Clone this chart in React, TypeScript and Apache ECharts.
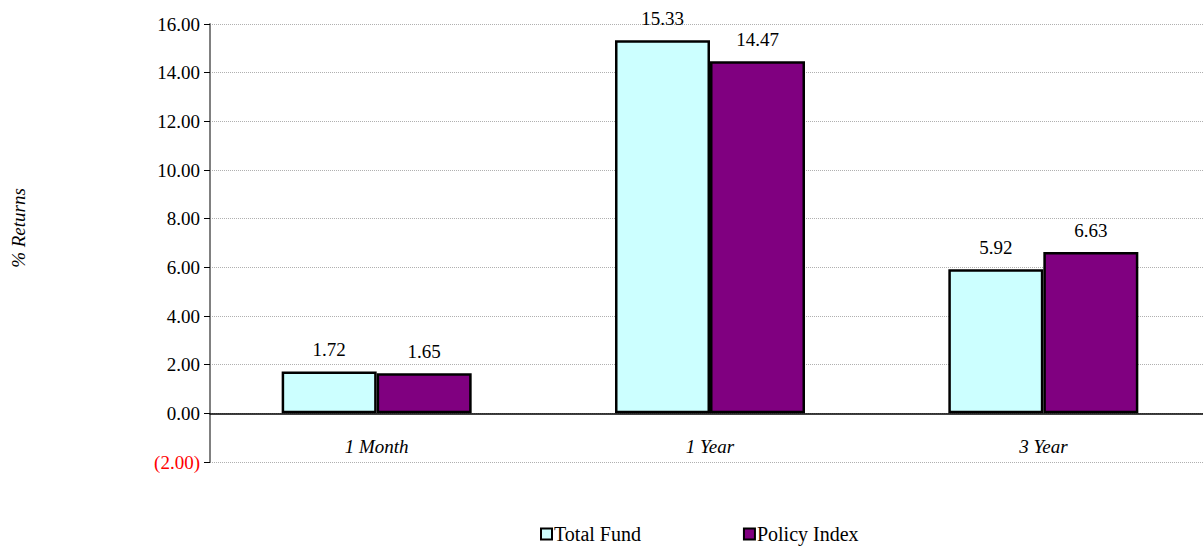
import React, { useEffect, useRef } from "react";
import * as echarts from "echarts";

const categories = ["1 Month", "1 Year", "3 Year"];
const totalFund = [1.72, 15.33, 5.92];
const policyIndex = [1.65, 14.47, 6.63];
const seriesNames = ["Total Fund", "Policy Index"];
const yTitle = "% Returns";

const FONT = "Liberation Serif";

export default function App() {
  const ref = useRef<HTMLDivElement>(null);
  useEffect(() => {
    if (!ref.current) return;
    const chart = echarts.init(ref.current, null, { renderer: "svg" });
    const fmt = (v: number) => (v < 0 ? `(${Math.abs(v).toFixed(2)})` : v.toFixed(2));
    const barLabel = {
      show: true,
      position: "top" as const,
      distance: 12,
      fontFamily: FONT,
      fontSize: 19,
      color: "#000",
      formatter: (p: any) => Number(p.value).toFixed(2),
    };
    chart.setOption({
      animation: false,
      textStyle: { fontFamily: FONT },
      grid: { left: 210, right: 0, top: 24, bottom: 91, containLabel: false },
      graphic: [
        {
          type: "text",
          x: 18,
          y: 228,
          rotation: Math.PI / 2,
          style: {
            text: yTitle,
            fontFamily: FONT,
            fontSize: 19,
            fontStyle: "italic",
            fill: "#000",
            align: "center",
            verticalAlign: "middle",
          },
        },
      ],
      legend: {
        bottom: 4,
        left: 535,
        icon: "rect",
        itemWidth: 11,
        itemHeight: 11,
        itemGap: 102,
        textStyle: { fontFamily: FONT, fontSize: 20, color: "#000", padding: [0, 0, 0, -3] },
        data: seriesNames,
      },
      xAxis: {
        type: "category",
        data: categories,
        axisLine: { onZero: true, lineStyle: { color: "#000", width: 1.5 } },
        axisTick: { show: false },
        axisLabel: { fontFamily: FONT, fontSize: 19, fontStyle: "italic", color: "#000", margin: -25 },
      },
      yAxis: {
        type: "value",
        min: -2,
        max: 16,
        interval: 2,
        axisLine: { show: true, lineStyle: { color: "#808080", width: 2 } },
        axisTick: { show: true, length: 6, lineStyle: { color: "#000", width: 1 } },
        axisLabel: {
          fontFamily: FONT,
          fontSize: 19,
          margin: 10,
          formatter: fmt,
          color: (v: any) => (Number(v) < 0 ? "#ff0000" : "#000"),
        },
        splitLine: { show: true, lineStyle: { color: "#b0b0b0", type: "dotted", width: 1 } },
      },
      series: [
        {
          name: seriesNames[0],
          type: "bar",
          data: totalFund,
          barWidth: 95,
          barGap: "0%",
          itemStyle: { color: "#CCFFFF", borderColor: "#000", borderWidth: 2.5 },
          label: barLabel,
        },
        {
          name: seriesNames[1],
          type: "bar",
          data: policyIndex,
          barWidth: 95,
          barGap: "0%",
          itemStyle: { color: "#800080", borderColor: "#000", borderWidth: 2.5 },
          label: barLabel,
        },
      ],
    });
    return () => chart.dispose();
  }, []);
  return (
    <div style={{ width: 1203, height: 553, position: "absolute", left: 0, top: 0, overflow: "hidden" }}>
      <div ref={ref} style={{ width: 1210, height: 553 }} />
    </div>
  );
}
